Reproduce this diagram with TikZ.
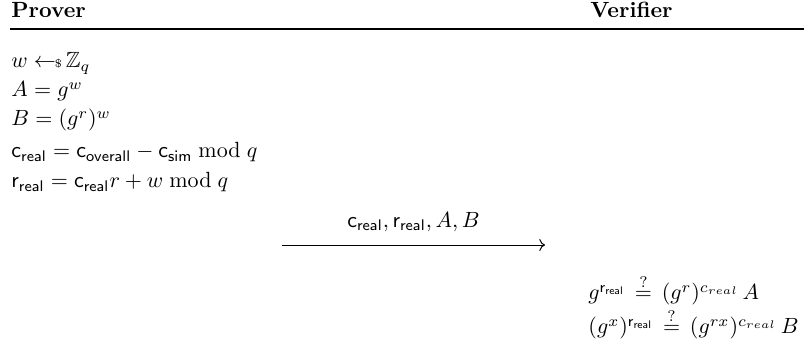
\documentclass[tikz,border=0pt]{standalone}
\usepackage{amsmath,amssymb}
\usepackage{xcolor}
\usepackage{tikz}
\usetikzlibrary{positioning,calc,arrows.meta}
\definecolor{Ink}{HTML}{000000}
\newcommand{\SampleFrom}{\gets\!\!\mbox{\tiny\$}\,}
\newcommand{\SfVar}[2]{\mathsf{#1}_{\mathsf{#2}}}
\newcommand{\CheckEq}{\,\stackrel{?}{=}\,}

\begin{document}
\begin{tikzpicture}[
    x=0.4545pt,
    y=-0.4545pt,
    every node/.style={font=\normalsize, inner sep=0pt, text=Ink},
    party/.style={anchor=base west, font=\bfseries},
    stepline/.style={anchor=base west}
]
\useasboundingbox (0,0) rectangle (804,351);

% Parties
\node[party] (prover) at (11,18) {Prover};
\node[party] (verifier) at (590,18) {Verifier};
\coordinate (ruleL) at (10,29);
\coordinate (ruleR) at (804,29);
\draw[Ink, line width=0.8pt] (ruleL) -- (ruleR);

% Prover steps
\node[stepline] (pw) at (11,68) {$w \SampleFrom \mathbb{Z}_q$};
\node[stepline] (pA) at (11,97) {$A = g^w$};
\node[stepline] (pB) at (11,126) {$B = (g^r)^w$};
\node[stepline] (pc) at (11,158) {$\SfVar{c}{real} = \SfVar{c}{overall} - \SfVar{c}{sim} \bmod q$};
\node[stepline] (pr) at (11,188) {$\SfVar{r}{real} = \SfVar{c}{real} r + w \bmod q$};

% Message
\coordinate (sendL) at (282,245);
\coordinate (sendR) at (545,245);
\draw[->, Ink, line width=0.45pt] (sendL) -- node[above=6pt] (msg)
  {$\SfVar{c}{real}, \SfVar{r}{real}, A, B$} (sendR);

% Verifier checks
\node[stepline] (vA) at (588,300) {$g^{\SfVar{r}{real}} \CheckEq (g^r)^{c_{real}}\, A$};
\node[stepline] (vB) at (588,334) {$(g^x)^{\SfVar{r}{real}} \CheckEq (g^{rx})^{c_{real}}\, B$};

\end{tikzpicture}
\end{document}
